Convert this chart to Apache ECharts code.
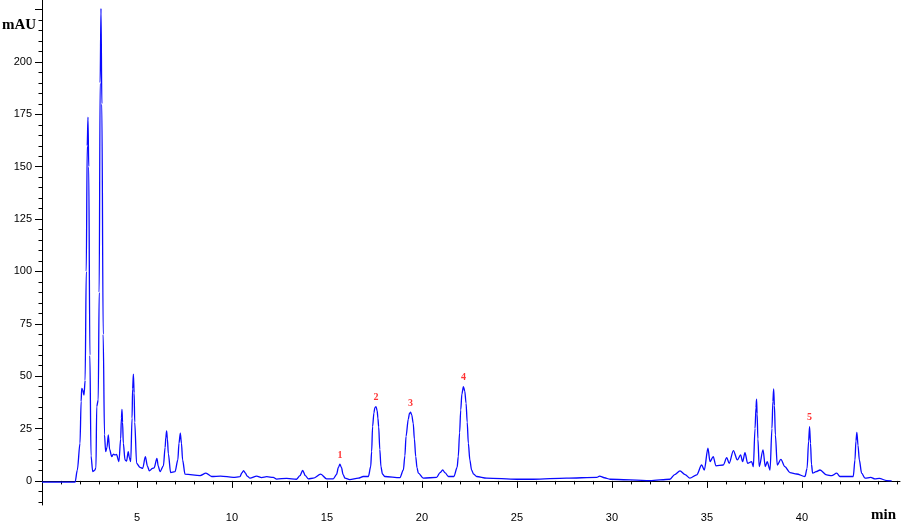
<!DOCTYPE html>
<html>
<head>
<meta charset="utf-8">
<script src="https://cdn.jsdelivr.net/npm/echarts@6/dist/echarts.min.js"></script>
<style>
html,body{margin:0;padding:0;background:#fff;}
#chart{width:904px;height:525px;}
</style>
</head>
<body>
<div id="chart"></div>
<script>
// Chromatogram trace: [retention time (min), response (mAU)]
const trace = [
  [0, -0.6], [1.74, -0.6], [1.86, 5.2], [2.0, 18], [2.06, 38], [2.09, 44.2], [2.14, 43.5], [2.21, 41],
  [2.27, 48], [2.33, 100], [2.38, 160], [2.42, 173.7], [2.46, 150], [2.52, 60], [2.58, 12], [2.67, 4.4],
  [2.76, 5.0], [2.84, 6.2], [2.88, 35.5], [2.96, 38.7], [3.01, 90], [3.06, 190], [3.105, 225.6], [3.15, 180],
  [3.22, 70], [3.29, 22], [3.35, 14.0], [3.42, 16], [3.49, 22], [3.56, 15], [3.67, 11.6], [3.76, 12.8],
  [3.84, 12.4], [3.92, 12.6], [4.05, 9.2], [4.14, 20], [4.18, 30], [4.21, 34.2], [4.24, 28], [4.28, 18],
  [4.37, 10], [4.45, 9.5], [4.54, 14], [4.6, 11], [4.67, 9.2], [4.74, 30], [4.77, 44], [4.81, 51],
  [4.85, 42], [4.88, 28], [4.98, 8.4], [5.16, 6.5], [5.3, 6], [5.44, 11.6], [5.55, 7], [5.65, 4.8],
  [5.82, 6], [5.9, 6.2], [6.05, 10.8], [6.12, 7], [6.21, 4.4], [6.39, 7.2], [6.48, 16], [6.52, 21],
  [6.56, 23.9], [6.6, 20], [6.65, 13], [6.77, 4.0], [7.0, 4.4], [7.15, 10], [7.21, 18], [7.28, 22.8],
  [7.34, 18], [7.4, 10], [7.53, 3.2], [8.32, 2.5], [8.63, 3.7], [8.93, 2.1], [9.4, 2.3], [10.07, 1.7],
  [10.42, 2.0], [10.52, 3.8], [10.61, 4.9], [10.7, 3.8], [10.8, 2.3], [10.95, 1.3], [11.3, 2.3], [11.56, 1.6],
  [11.83, 2.0], [12.17, 1.7], [12.35, 0.9], [12.88, 1.2], [13.4, 0.8], [13.58, 2.5], [13.72, 5.0], [13.86, 2.5],
  [14.02, 1.0], [14.28, 1.3], [14.67, 3.2], [14.98, 1.0], [15.33, 1.0], [15.5, 3], [15.6, 6.4], [15.68, 8.0],
  [15.76, 6.4], [15.85, 3], [15.95, 1.3], [16.2, 0.6], [16.65, 1.3], [16.91, 2.1], [17.18, 2.1], [17.3, 6.8],
  [17.35, 14], [17.4, 25.9], [17.47, 32.5], [17.52, 35], [17.58, 35.5], [17.64, 33.5], [17.68, 30], [17.72, 25.9],
  [17.78, 15], [17.84, 6.8], [17.92, 3.3], [18.05, 2.1], [18.84, 1.6], [19.02, 5.2], [19.1, 12], [19.16, 21.2],
  [19.28, 29.5], [19.34, 32.2], [19.4, 32.8], [19.46, 31.5], [19.54, 27.5], [19.6, 20], [19.67, 11.6], [19.74, 6.2],
  [19.81, 3.7], [20.07, 1.3], [20.77, 1.7], [20.95, 4.0], [21.09, 5.2], [21.22, 3.8], [21.39, 2.1], [21.68, 2.1],
  [21.85, 6.5], [21.91, 11.6], [21.98, 23], [22.04, 33.9], [22.1, 41.5], [22.18, 45.0], [22.25, 43], [22.32, 37.1],
  [22.38, 28], [22.44, 18], [22.52, 10], [22.61, 5.2], [22.72, 3.2], [22.88, 2.1], [23.4, 1.3], [24.98, 0.8],
  [25.86, 0.8], [27.6, 1.3], [29.2, 1.7], [29.35, 2.3], [29.6, 1.5], [29.9, 0.8], [32.0, 0.15], [33.05, 0.8],
  [33.3, 3.0], [33.58, 4.8], [33.85, 3.0], [34.1, 1.3], [34.46, 2.9], [34.72, 7.6], [34.86, 5.2], [35.05, 15.6],
  [35.16, 9.2], [35.33, 11.6], [35.47, 7.2], [35.86, 7.6], [36.04, 11.1], [36.17, 8.4], [36.39, 14.5], [36.6, 10],
  [36.77, 12.4], [36.88, 9.2], [37.0, 13.5], [37.14, 8.4], [37.35, 9.2], [37.44, 6.8], [37.53, 25], [37.58, 35],
  [37.61, 39.0], [37.64, 32], [37.68, 20], [37.75, 6.8], [37.95, 14.8], [38.07, 6.8], [38.17, 9.2], [38.32, 5.2],
  [38.42, 25], [38.47, 38], [38.51, 43.9], [38.55, 36], [38.6, 22], [38.7, 7.6], [38.89, 10.3], [39.1, 6.8],
  [39.37, 4.0], [39.72, 3.3], [40.16, 2.1], [40.27, 6], [40.35, 19], [40.4, 25.9], [40.45, 18], [40.5, 8],
  [40.56, 3.7], [40.74, 4.4], [40.95, 5.2], [41.3, 2.9], [41.56, 2.5], [41.83, 3.7], [42.0, 2.1], [42.7, 2.1],
  [42.79, 10], [42.84, 19], [42.89, 23.2], [42.95, 17], [43.02, 10], [43.14, 3.7], [43.32, 1.3], [43.62, 1.7],
  [43.84, 0.95], [44.07, 1.2], [44.46, 0.15], [44.72, 0]
];

// Numbered peaks
const peakNames = ['1', '2', '3', '4', '5'];
const peakTimes = [15.68, 17.58, 19.4, 22.18, 40.4];
const peakHeights = [8.0, 35.5, 32.8, 45.0, 25.9];

// Axis ticks
const xTickValues = [5, 10, 15, 20, 25, 30, 35, 40];
const xMinorTickValues = [1,2,3,4,6,7,8,9,11,12,13,14,16,17,18,19,21,22,23,24,26,27,28,29,31,32,33,34,36,37,38,39,41,42,43,44,45];
const yTickValues = [0, 25, 50, 75, 100, 125, 150, 175, 200, 225];
const yLabelValues = [0, 25, 50, 75, 100, 125, 150, 175, 200];
const yMinorTickValues = [-10,-5,5,10,15,20,30,35,40,45,55,60,65,70,80,85,90,95,105,110,115,120,130,135,140,145,155,160,165,170,180,185,190,195,205,210,215,220];

const X_MIN = 0, X_MAX = 45.16, Y_MIN = -11.5, Y_MAX = 229.6;

const peakData = peakTimes.map((t, i) => ({ value: [t, peakHeights[i]], name: peakNames[i] }));

const chart = echarts.init(document.getElementById('chart'), null, { renderer: 'canvas' });
const labelFont = { color: '#000', fontFamily: 'Liberation Sans, Arial, sans-serif', fontSize: 11 };

chart.setOption({
  backgroundColor: '#fff',
  animation: false,
  grid: { left: 42, right: 4, top: 0, bottom: 20, containLabel: false },
  xAxis: [
    {
      type: 'value', min: X_MIN, max: X_MAX,
      axisLine: { show: true, lineStyle: { color: '#000', width: 1 } },
      axisTick: { show: true, length: 7, customValues: xTickValues, lineStyle: { color: '#000' } },
      axisLabel: Object.assign({ customValues: xTickValues, margin: 7 }, labelFont),
      splitLine: { show: false }
    },
    {
      type: 'value', min: X_MIN, max: X_MAX, position: 'bottom',
      axisLine: { show: false },
      axisTick: { show: true, length: 3.5, customValues: xMinorTickValues, lineStyle: { color: '#000' } },
      axisLabel: { show: false },
      splitLine: { show: false }
    }
  ],
  yAxis: [
    {
      type: 'value', min: Y_MIN, max: Y_MAX,
      axisLine: { show: true, lineStyle: { color: '#000', width: 1 } },
      axisTick: { show: true, length: 7, customValues: yTickValues, lineStyle: { color: '#000' } },
      axisLabel: Object.assign({ customValues: yLabelValues, margin: 10 }, labelFont),
      splitLine: { show: false }
    },
    {
      type: 'value', min: Y_MIN, max: Y_MAX, position: 'left',
      axisLine: { show: false },
      axisTick: { show: true, length: 3.5, customValues: yMinorTickValues, lineStyle: { color: '#000' } },
      axisLabel: { show: false },
      splitLine: { show: false }
    }
  ],
  graphic: [
    { type: 'text', left: 2, top: 18, style: { text: 'mAU', font: 'bold 15px "Liberation Serif", "Times New Roman", serif', fill: '#000' } },
    { type: 'text', left: 871, top: 508, style: { text: 'min', font: 'bold 15px "Liberation Serif", "Times New Roman", serif', fill: '#000' } }
  ],
  series: [
    {
      type: 'line', xAxisIndex: 0, yAxisIndex: 0,
      data: trace,
      showSymbol: false, symbol: 'none',
      smooth: 0.3, smoothMonotone: 'x',
      lineStyle: { color: '#0a0aff', width: 1.3 },
      z: 3
    },
    {
      type: 'scatter', xAxisIndex: 0, yAxisIndex: 0,
      data: peakData,
      symbolSize: 0,
      label: {
        show: true, position: 'top', distance: 4,
        formatter: p => p.name,
        color: '#ff0000', fontWeight: 'bold', fontSize: 10,
        fontFamily: 'Liberation Serif, Times New Roman, serif'
      },
      z: 4
    }
  ]
});
</script>
</body>
</html>
